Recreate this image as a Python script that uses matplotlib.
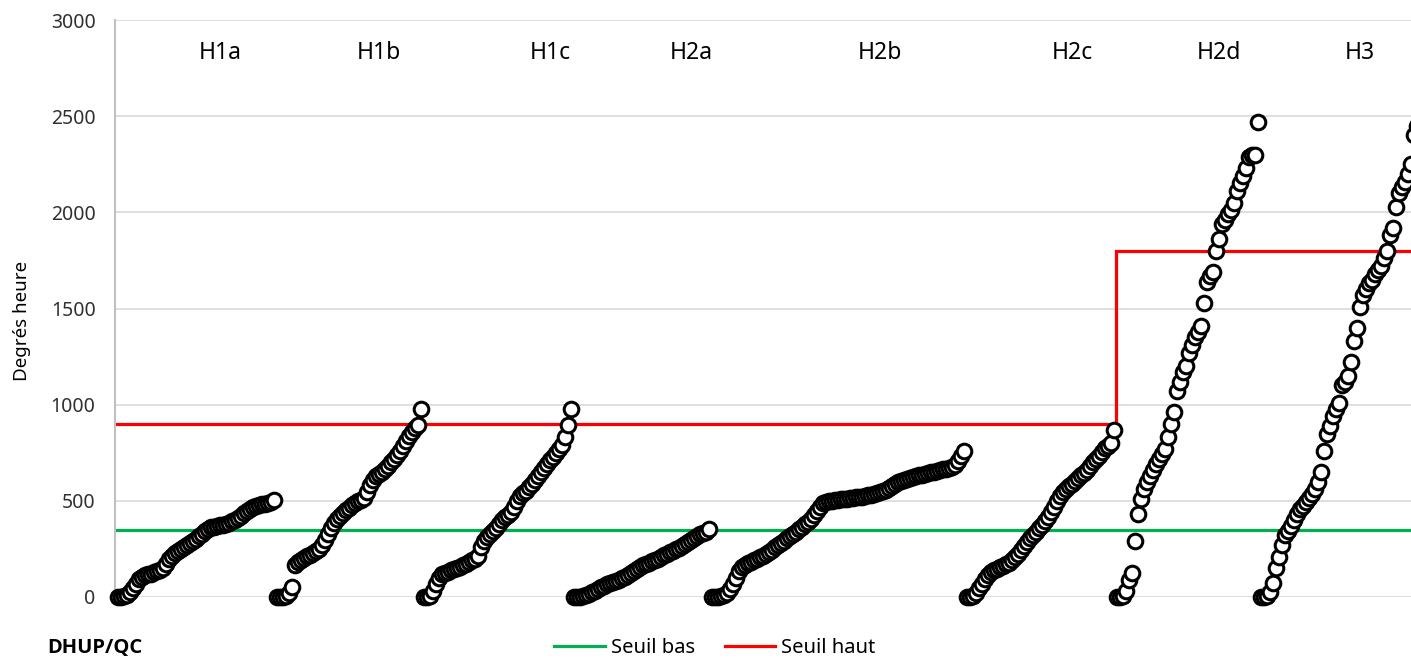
import matplotlib

matplotlib.use("Agg")
import matplotlib.pyplot as plt
import numpy as np

plt.rcParams["font.family"] = ["Noto Sans", "DejaVu Sans"]

# Degree-hours per case, sorted within each archetype
groups = ["H1a", "H1b", "H1c", "H2a", "H2b", "H2c", "H2d", "H3"]

h1a = [0, 0, 3, 8, 25, 45, 70, 95, 105, 112, 118, 122, 128, 133, 140, 150, 170, 195,
       215, 228, 240, 250, 262, 272, 282, 292, 302, 315, 330, 345, 355, 362, 366, 370,
       372, 375, 378, 385, 395, 402, 410, 422, 435, 448, 460, 470, 475, 480, 483, 486,
       490, 492, 505]
h1b = [0, 0, 0, 3, 20, 50, 168, 180, 192, 203, 212, 220, 228, 238, 250, 270, 298, 330,
       360, 385, 405, 420, 435, 450, 465, 478, 490, 498, 505, 515, 545, 580, 610, 630,
       640, 650, 665, 680, 700, 720, 740, 760, 785, 810, 835, 860, 880, 895, 980]
h1c = [0, 0, 3, 30, 65, 100, 118, 125, 132, 138, 143, 150, 157, 165, 172, 180, 190, 200,
       215, 260, 290, 310, 330, 345, 360, 380, 400, 415, 425, 440, 470, 500, 525, 540,
       550, 570, 590, 610, 630, 650, 670, 690, 710, 730, 750, 770, 790, 830, 893, 980]
h2a = [0, 0, 0, 3, 8, 15, 25, 33, 42, 50, 58, 65, 72, 78, 84, 90, 98, 106, 115, 125,
       135, 145, 155, 165, 172, 178, 185, 192, 200, 208, 216, 224, 232, 240, 248, 256,
       265, 275, 285, 295, 305, 315, 325, 333, 340, 355]
h2b = [0, 0, 0, 3, 8, 20, 40, 70, 100, 135, 155, 165, 175, 182, 190, 198, 206, 214,
       222, 232, 245, 258, 270, 282, 293, 305, 315, 325, 338, 352, 365, 378, 392, 408,
       425, 448, 470, 488, 495, 498, 500, 502, 505, 508, 510, 512, 514, 516, 518, 520,
       522, 525, 528, 532, 536, 540, 545, 550, 558, 568, 578, 588, 596, 602, 608, 614,
       620, 624, 628, 632, 636, 640, 644, 648, 652, 656, 660, 664, 668, 672, 678, 688,
       705, 735, 760]
h2c = [0, 0, 3, 20, 45, 70, 95, 115, 128, 138, 147, 155, 163, 170, 177, 190, 208, 225,
       245, 265, 285, 305, 322, 340, 358, 375, 395, 418, 440, 470, 500, 525, 545, 560,
       575, 590, 605, 620, 632, 645, 660, 680, 700, 718, 735, 755, 775, 785, 800, 868]
h2d = [0, 0, 5, 30, 90, 125, 290, 430, 510, 560, 600, 630, 660, 690, 720, 745, 770, 830,
       900, 960, 1070, 1120, 1170, 1200, 1270, 1310, 1350, 1380, 1410, 1530, 1640, 1670,
       1690, 1800, 1860, 1940, 1960, 1990, 2010, 2050, 2110, 2150, 2190, 2230, 2290, 2300,
       2300, 2470]
h3 = [0, 0, 5, 25, 75, 150, 210, 270, 320, 345, 370, 400, 430, 455, 475, 495, 515, 535,
      560, 600, 650, 760, 850, 890, 940, 980, 1010, 1100, 1120, 1150, 1220, 1330, 1400,
      1510, 1570, 1600, 1630, 1650, 1680, 1700, 1720, 1760, 1800, 1880, 1920, 2030, 2100,
      2130, 2160, 2200, 2250, 2400, 2450]

series = [h1a, h1b, h1c, h2a, h2b, h2c, h2d, h3]

# Comfort thresholds for each archetype
seuil_bas = [350, 350, 350, 350, 350, 350, 350, 350]
seuil_haut = [900, 900, 900, 900, 900, 900, 1800, 1800]

# x position of each archetype name (case index)
label_x = [34, 87, 144, 191, 254, 318, 367, 414]
label_y = 2830

W, H = 1411, 660
fig = plt.figure(figsize=(W / 100, H / 100), dpi=100)
ax = fig.add_axes([115 / W, 63 / H, 1 - 115 / W, 577 / H])

x_left, x_right = -1, 431
ax.set_xlim(x_left, x_right)
ax.set_ylim(0, 3000)

offsets = np.concatenate([[0], np.cumsum([len(s) for s in series])])
for start, values in zip(offsets[:-1], series):
    xs = start + np.arange(len(values))
    ax.plot(xs, values, linestyle="none", marker="o", markersize=10.5,
            markerfacecolor="white", markeredgecolor="black", markeredgewidth=2.2,
            clip_on=False, zorder=3)

edges = offsets - 0.5
edges[0] = x_left
edges[-1] = x_right + 5
ax.stairs(seuil_bas, edges, baseline=None, color="#00b050", lw=2.3, zorder=2,
          label="Seuil bas")
ax.stairs(seuil_haut, edges, baseline=None, color="#ff0000", lw=2.3, zorder=2,
          label="Seuil haut")

for name, lx in zip(groups, label_x):
    ax.text(lx, label_y, name, ha="center", va="center", fontsize=16.5, color="black")

ax.set_yticks(np.arange(0, 3001, 500))
ax.set_xticks([])
ax.tick_params(axis="y", length=0, pad=14, labelsize=14, labelcolor="#303030")
ax.grid(axis="y", color="#d9d9d9", lw=1.2, zorder=0)
ax.set_axisbelow(True)
for side in ("top", "right", "bottom"):
    ax.spines[side].set_visible(False)
ax.spines["left"].set_color("#c0c0c0")
ax.spines["left"].set_linewidth(1.5)

ax.set_ylabel("Degrés heure", fontsize=13.5, color="black")
ax.yaxis.set_label_coords(-(115 - 31) / (W - 115), 0.478)

fig.text(47 / W, 12 / H, "DHUP/QC", fontsize=14.5, fontweight="bold",
         family=["Open Sans", "DejaVu Sans"], ha="left", va="center", color="black")

fig.legend(loc="center", bbox_to_anchor=(715 / W, 12 / H), ncol=2, frameon=False,
           fontsize=14.5, handlelength=2.5, handletextpad=0.3, columnspacing=1.5)

fig.savefig("out.png", dpi=100)
